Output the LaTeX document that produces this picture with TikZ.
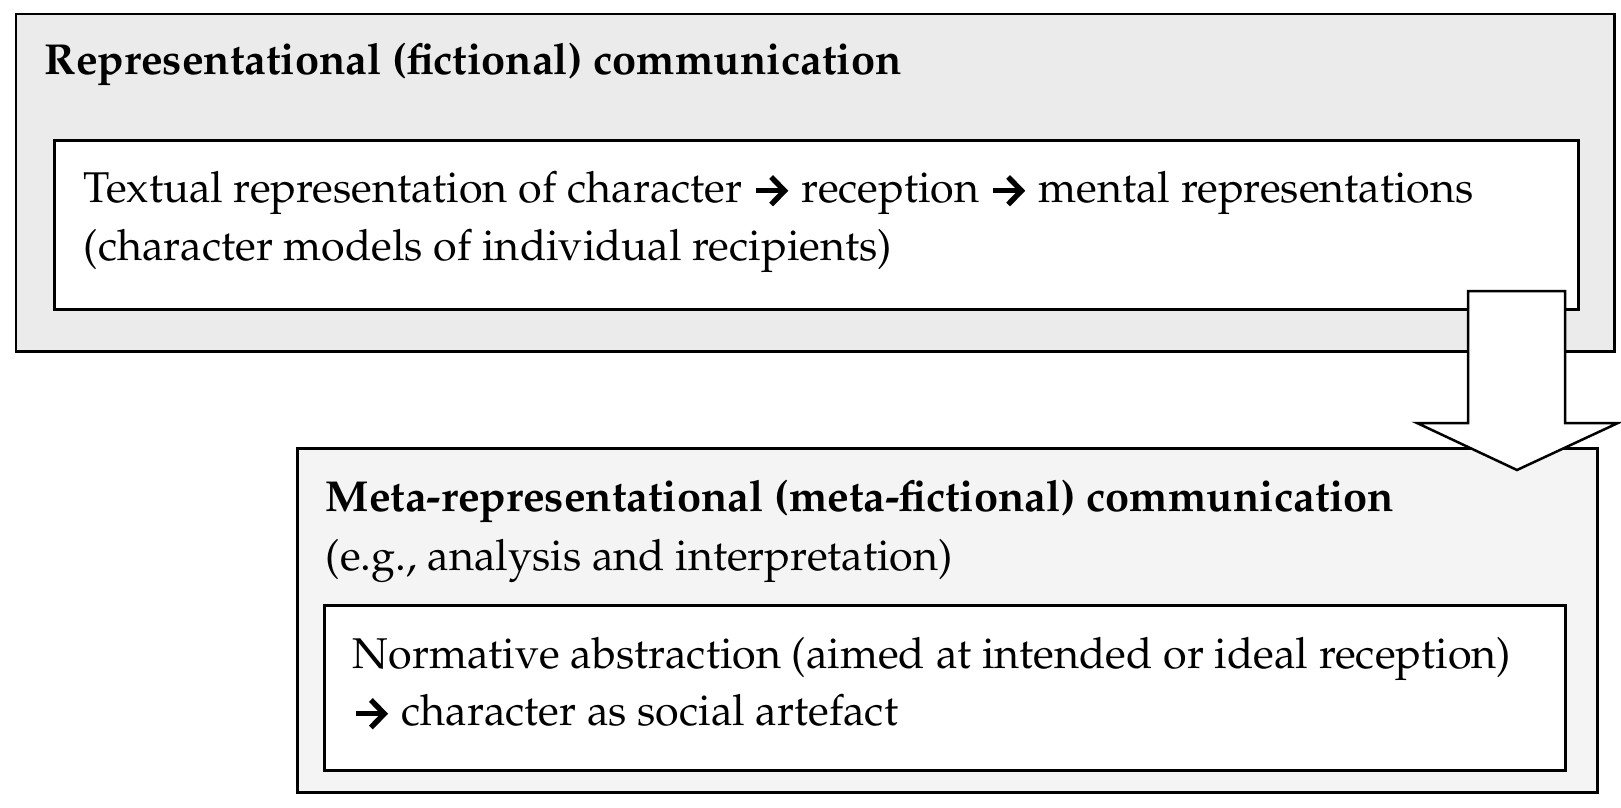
\documentclass[tikz,border=0pt]{standalone}
\usepackage[T1]{fontenc}
\usepackage{mathpazo}
\usetikzlibrary{positioning,arrows.meta}

\definecolor{repgray}{HTML}{EBEBEB}
\definecolor{metagray}{HTML}{F4F4F4}

\tikzset{
  box/.style={draw, line width=0.6pt, anchor=north west, inner sep=0pt},
  boxtext/.style={anchor=base west, inner sep=0pt, font=\fontsize{10.33}{13}\selectfont},
  boxtitle/.style={boxtext, font=\fontsize{10.4}{13}\selectfont\bfseries},
  blockarrow/.style={draw, line width=0.6pt, fill=white, line join=miter},
}
% thick arrow used inside the texts
\newcommand{\ra}{\tikz[baseline=-2.7pt]\draw[line width=1.3pt,
  -{Straight Barb[length=3.2pt,width=6.6pt,line width=1.3pt]}] (0,0) -- (7.8pt,0);}

\begin{document}
\begin{tikzpicture}[x=0.24pt, y=-0.24pt]
\useasboundingbox (0,0) rectangle (1621,808);

% Representational level
\node[box, fill=repgray, minimum width=1598*0.24pt, minimum height=337*0.24pt] (rep) at (15,13) {};
\node[box, fill=white, minimum width=1524*0.24pt, minimum height=169*0.24pt] (repinner) at (53,139) {};
\node[boxtitle] (reptitle) at (44,75) {Representational (fictional) communication};
\node[boxtext] (repline1) at (83,202) {Textual representation of character \ra{} reception \ra{} mental representations};
\node[boxtext] (repline2) at (83,261) {(character models of individual recipients)};

% Meta-representational level
\node[box, fill=metagray, minimum width=1300*0.24pt, minimum height=344*0.24pt] (meta) at (296,447) {};
\node[box, fill=white, minimum width=1241*0.24pt, minimum height=165*0.24pt] (metainner) at (323,604) {};
\node[boxtitle] (metatitle) at (325,512) {Meta-representational (meta-fictional) communication};
\node[boxtext] (metanote) at (325,570) {(e.g., analysis and interpretation)};
\node[boxtext] (normline1) at (352,668) {Normative abstraction (aimed at intended or ideal reception)};
\node[boxtext] (normline2) at (352,725) {\ra{} character as social artefact};

% Block arrow
\coordinate (arrtop) at (1517,291);
\coordinate (arrtip) at (1517,470);
\draw[blockarrow] (arrtop) ++(-49,0) -- ++(97,0) -- ++(0,132) -- ++(53,0)
  -- (arrtip) -- ++(-100,-47) -- ++(51,0) -- cycle;
\end{tikzpicture}
\end{document}
